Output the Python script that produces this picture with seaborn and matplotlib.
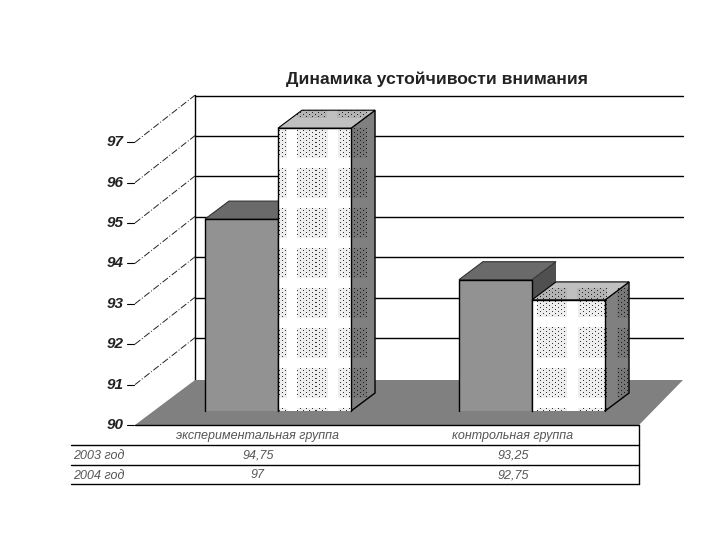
import numpy as np
import pandas as pd
import matplotlib
matplotlib.use("Agg")
import matplotlib.pyplot as plt
from matplotlib.patches import Polygon, Rectangle
from matplotlib.transforms import Affine2D
import seaborn as sns

groups = ["экспериментальная группа", "контрольная группа"]
years = ["2003 год", "2004 год"]
values_2003 = [94.75, 93.25]
values_2004 = [97, 92.75]
value_labels_2003 = ["94,75", "93,25"]
value_labels_2004 = ["97", "92,75"]
y_ticks = [90, 91, 92, 93, 94, 95, 96, 97]
title = "Динамика устойчивости внимания"

W, H = 720, 540
BASE = 90
PX_PER_UNIT = 40.4
PX_PER_GROUP = 254
BASE_PY = 411          # bar foot, pixels from the top
GROUP0_PX = 278        # centre of the first group

sns.set_theme(style="white")
plt.rcParams["font.family"] = ["Liberation Sans", "DejaVu Sans"]


def stipple():
    # the window pattern of the light bars: dotted blocks 30px wide, 10px gaps
    yy, xx = np.mgrid[0:H, 0:W]
    block = ((xx - 297) % 40 < 30) & ((yy - 128) % 40 < 30)
    dots = ((xx % 6 == 0) & (yy % 4 == 0)) | ((xx % 6 == 3) & (yy % 4 == 2))
    img = np.zeros((H, W, 4))
    img[..., 3] = block * 0.07
    img[..., 3][block & dots] = 0.8
    return img


df = pd.DataFrame({
    "group": groups * 2,
    "year": [years[0]] * 2 + [years[1]] * 2,
    "value": values_2003 + values_2004,
})

fig = plt.figure(figsize=(W / 100, H / 100), dpi=100, facecolor="white")
ax = fig.add_axes([0, 0, 1, 1])
sns.barplot(data=df, x="group", y="value", hue="year", hue_order=years, dodge=True,
            width=0.575, palette=["#929292", "#ffffff"], linewidth=0,
            legend=False, saturation=1, ax=ax, zorder=5)
xlim = (-GROUP0_PX / PX_PER_GROUP, (W - GROUP0_PX) / PX_PER_GROUP)
ylim = (BASE - (H - BASE_PY) / PX_PER_UNIT, BASE + BASE_PY / PX_PER_UNIT)
ax.axis("off")

# pixel space for the parts of the picture that are not data
px = Affine2D().scale(1 / W, -1 / H).translate(0, 1) + fig.transFigure


def offset(dx, dy):
    return ax.transData + Affine2D().translate(dx, -dy)


# floor
ax.add_patch(Polygon([(135, 425), (195, 380), (683, 380), (639, 425)], closed=True,
                     facecolor="#808080", edgecolor="none", transform=px, zorder=1))
ax.plot([135, 639], [425, 425], color="black", lw=1, transform=px, zorder=2)

# back wall and grid
ax.plot([195, 195], [95, 380], color="black", lw=1, transform=px, zorder=0.5)
for v in y_ticks[1:]:
    ax.plot([0, 488 / PX_PER_GROUP], [v, v], color="black", lw=1, zorder=0.5,
            transform=offset(195 - GROUP0_PX, -32.5))

# left wall lines with tick labels
for v in y_ticks:
    py = 425 - (v - BASE) * PX_PER_UNIT
    ax.plot([127, 134], [py, py], color="black", lw=0.8, transform=px, zorder=2)
    if v > BASE:
        ax.plot([135, 195], [py, py - 47], color="#222222", lw=0.7, ls=(0, (7, 2, 1, 2)),
                transform=px, zorder=2)
    ax.text(124, py, str(v), transform=px, ha="right", va="center", fontsize=11,
            fontweight="bold", fontstyle="italic", color="#222222")

# 3D faces of the bars, taken from the bars seaborn drew
DEPTH_X = 24 / PX_PER_GROUP
DEPTH_Y = 18 / PX_PER_UNIT
tex = stipple()
extent = [xlim[0], xlim[1], ylim[0], ylim[1]]
bars = [b for b in ax.patches if isinstance(b, Rectangle)][:4]
for i, bar in enumerate(bars):
    light = i >= 2
    z = 6 if light else 5
    x0, w = bar.get_x(), bar.get_width()
    top = bar.get_height()
    bar.set_y(BASE)
    bar.set_height(top - BASE)
    bar.set_zorder(z + 0.2)
    side = Polygon([(x0 + w, BASE), (x0 + w + DEPTH_X, BASE + DEPTH_Y),
                    (x0 + w + DEPTH_X, top + DEPTH_Y), (x0 + w, top)], closed=True,
                   facecolor="#808080" if light else "#505050",
                   edgecolor="black" if light else "none", lw=1, zorder=z)
    cap = Polygon([(x0, top), (x0 + DEPTH_X, top + DEPTH_Y), (x0 + w + DEPTH_X, top + DEPTH_Y),
                   (x0 + w, top)], closed=True,
                  facecolor="#c0c0c0" if light else "#6a6a6a",
                  edgecolor="black" if light else "#333333", lw=0.8, zorder=z)
    ax.add_patch(side)
    ax.add_patch(cap)
    ax.plot([x0, x0, x0 + w, x0 + w], [BASE, top, top, BASE], color="black",
            lw=1, zorder=z + 0.6)
    if light:
        for face in (bar, side, cap):
            im = ax.imshow(tex, extent=extent, origin="upper", interpolation="nearest",
                           aspect="auto", zorder=z + 0.4)
            im.set_clip_path(face)
ax.set_xlim(*xlim)
ax.set_ylim(*ylim)

# data table under the chart
for py in [445, 465, 484]:
    ax.plot([71, 639], [py, py], color="black", lw=1, transform=px, zorder=2)
ax.plot([639, 639], [425, 484], color="black", lw=1, transform=px, zorder=2)
table_text = dict(transform=px, ha="center", va="center", fontsize=9, fontstyle="italic", color="#555555")
col_px = [258, 513]
for cx, g, a, b in zip(col_px, groups, value_labels_2003, value_labels_2004):
    ax.text(cx, 435.5, g, **table_text)
    ax.text(cx, 456, a, **table_text)
    ax.text(cx, 475.5, b, **table_text)
ax.text(99, 456, years[0], **table_text)
ax.text(99, 476, years[1], **table_text)

ax.text(437, 79, title, transform=px, ha="center", va="center", fontsize=12.6, fontweight="bold", color="#222222")

fig.savefig("out.png", dpi=100)
